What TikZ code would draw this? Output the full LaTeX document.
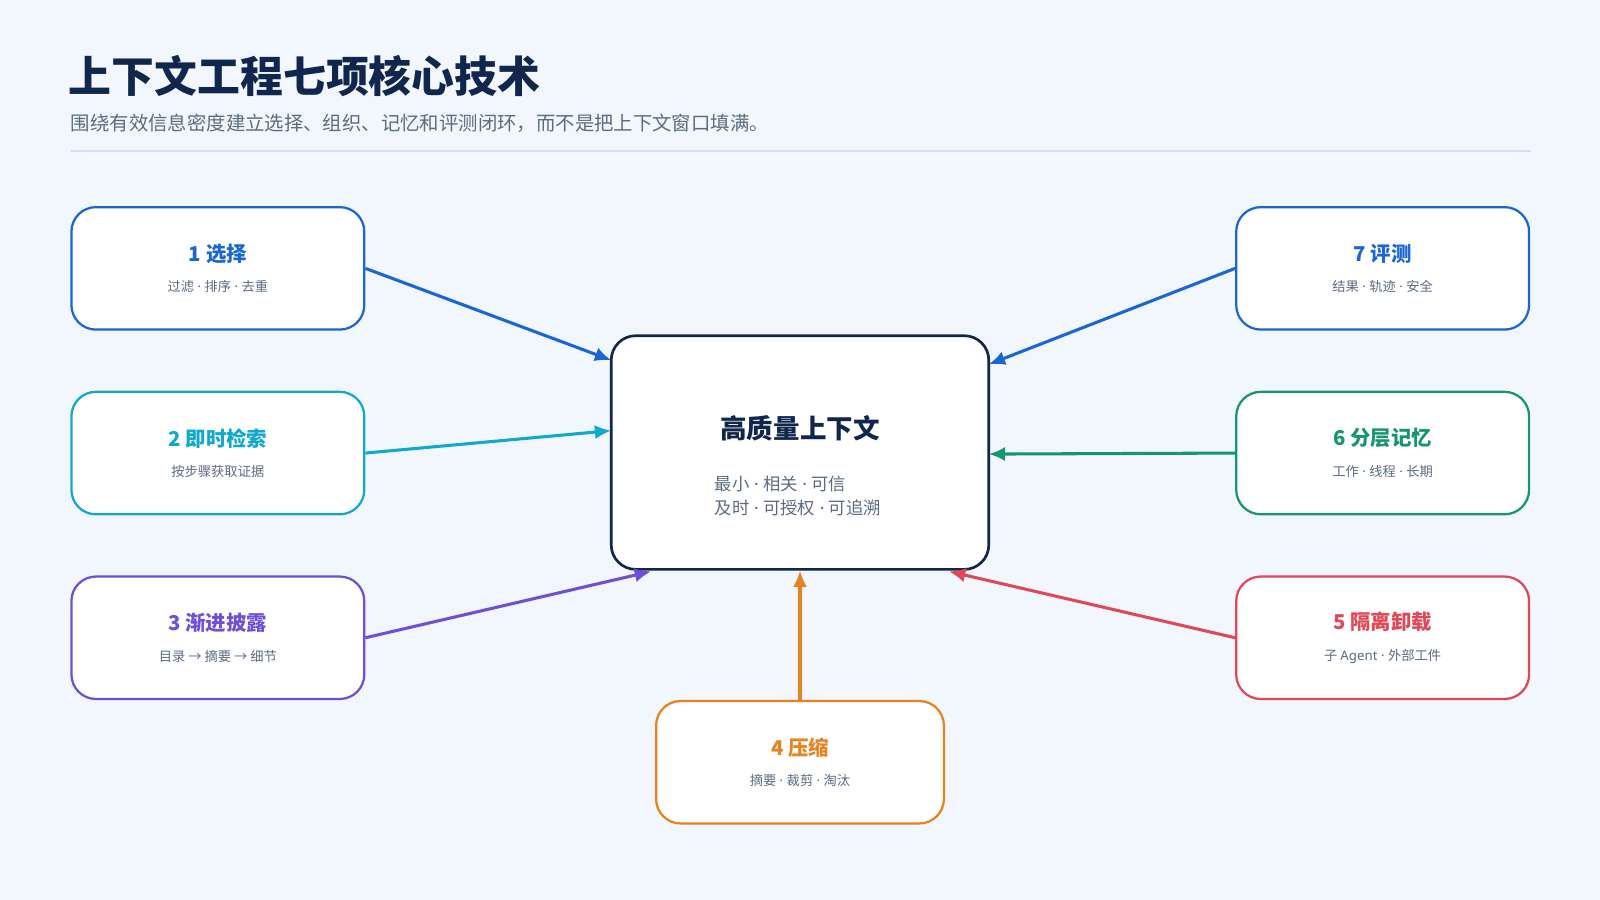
\documentclass[tikz,border=0pt]{standalone}
\usepackage{fontspec}
\setmainfont{Noto Sans CJK SC}
\newfontfamily\latinfont{Noto Sans}
\usetikzlibrary{arrows.meta, positioning}
\definecolor{bg}{HTML}{F2F7FD}
\definecolor{navy}{HTML}{10264D}
\definecolor{subgray}{HTML}{5B6B82}
\definecolor{cblue}{HTML}{1A66D6}
\definecolor{ccyan}{HTML}{0FA9CF}
\definecolor{cpurple}{HTML}{6E4FD8}
\definecolor{corange}{HTML}{E8821E}
\definecolor{cred}{HTML}{E04858}
\definecolor{cgreen}{HTML}{16956E}
\tikzset{
  tech/.style={draw=#1, line width=2.2pt, rounded corners=24pt, fill=white,
    minimum width=287pt, minimum height=120pt, align=center},
  link/.style={draw=#1, line width=3pt, -{Latex[length=16pt,width=14pt]}},
}
\newcommand{\sep}{{\latinfont\ ·\ }}
\newcommand{\techtext}[3]{{\fontsize{20}{24}\selectfont\bfseries\color{#1}#2}\\[16pt]{\fontsize{13}{16}\selectfont\color{subgray}#3}}
\begin{document}
\begin{tikzpicture}[x=1pt,y=-1pt]
    \fill[bg] (0,0) rectangle (1568,882);
    \useasboundingbox (0,0) rectangle (1568,882);
    % heading
    \node[anchor=west, text=navy, font=\fontsize{42}{48}\selectfont\bfseries] (title) at (64,75) {上下文工程七项核心技术};
    \node[anchor=west, text=subgray, font=\fontsize{19}{22}\selectfont] (subtitle) at (66,121) {围绕有效信息密度建立选择、组织、记忆和评测闭环，而不是把上下文窗口填满。};
    \draw[draw=cblue!20, line width=1.2pt] (70,148) -- (1500,148);

    % centre
    \node[draw=navy, line width=2.6pt, rounded corners=24pt, fill=white,
      minimum width=370pt, minimum height=229pt] (core) at (784,443.5) {};
    \node[text=navy, font=\fontsize{26}{30}\selectfont\bfseries] (coretitle) at (784,420) {高质量上下文};
    \node[anchor=west, text=subgray, align=left, font=\fontsize{17}{24}\selectfont] (coresub) at (697,486) {最小\sep 相关\sep 可信\\及时\sep 可授权\sep 可追溯};

    % techniques
    \node[tech=cblue] (t1) at (213.5,263) {\techtext{cblue}{1 选择}{过滤\sep 排序\sep 去重}};
    \node[tech=ccyan] (t2) at (213.5,444) {\techtext{ccyan}{2 即时检索}{按步骤获取证据}};
    \node[tech=cpurple] (t3) at (213.5,625) {\techtext{cpurple}{3 渐进披露}{目录 → 摘要 → 细节}};
    \node[tech=corange, minimum width=282pt] (t4) at (784,747) {\techtext{corange}{4 压缩}{摘要\sep 裁剪\sep 淘汰}};
    \node[tech=cred] (t5) at (1355,625) {\techtext{cred}{5 隔离卸载}{子 {\latinfont Agent}\sep 外部工件}};
    \node[tech=cgreen] (t6) at (1355,444) {\techtext{cgreen}{6 分层记忆}{工作\sep 线程\sep 长期}};
    \node[tech=cblue] (t7) at (1355,263) {\techtext{cblue}{7 评测}{结果\sep 轨迹\sep 安全}};

    % arrow ends on the centre box
    \coordinate (e1) at (599,353);
    \coordinate (e2) at (599,422);
    \coordinate (e3) at (638,560);
    \coordinate (e5) at (930,560);
    \coordinate (e6) at (969,445);
    \coordinate (e7) at (969,357);

    \draw[link=cblue] (t1.east) -- (e1);
    \draw[link=ccyan] (t2.east) -- (e2);
    \draw[link=cpurple] (t3.east) -- (e3);
    \draw[link=corange] (t4.north) -- (core.south);
    \draw[link=cred] (t5.west) -- (e5);
    \draw[link=cgreen] (t6.west) -- (e6);
    \draw[link=cblue] (t7.west) -- (e7);
\end{tikzpicture}
\end{document}
